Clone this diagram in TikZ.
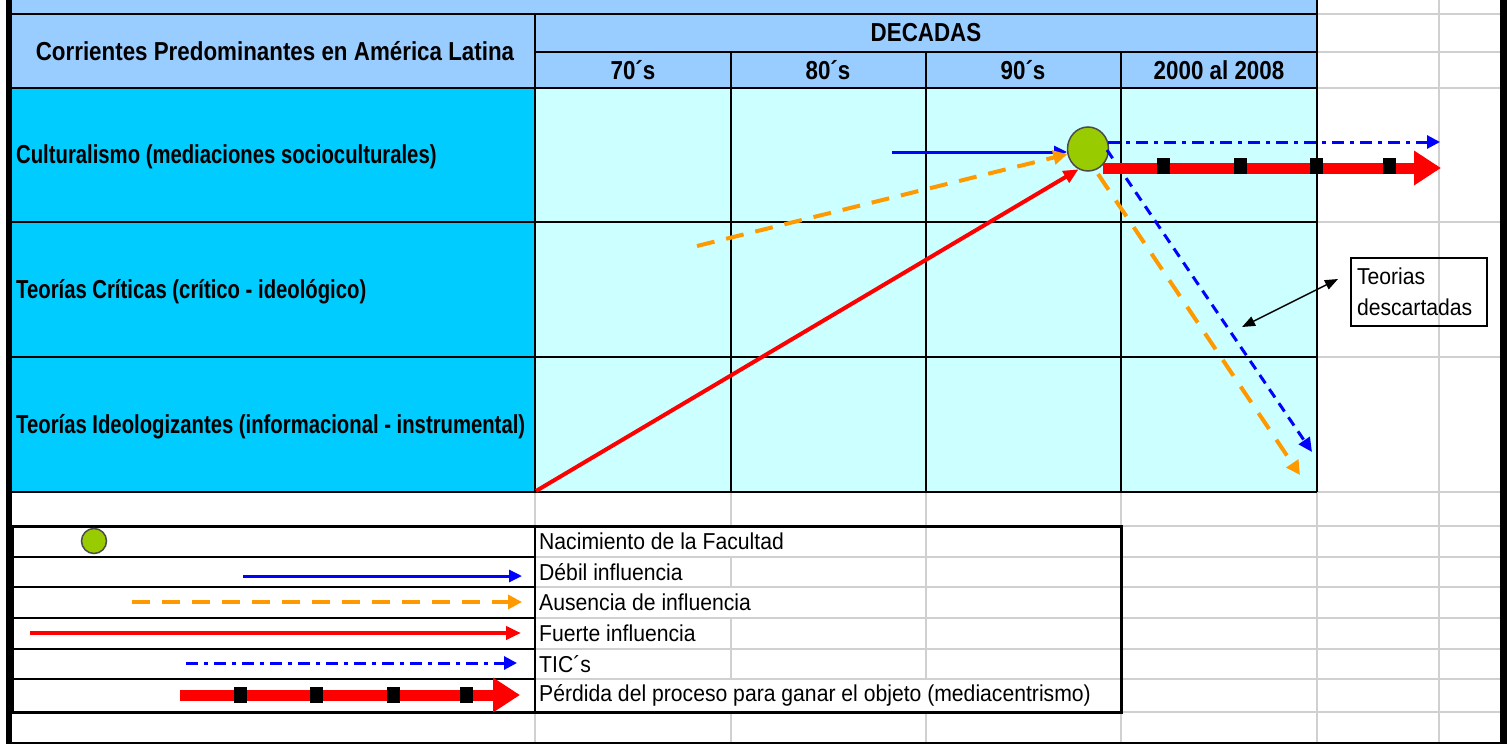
\documentclass[tikz,border=0pt]{standalone}
\usepackage{fontspec}
\setmainfont{Liberation Sans}
\newfontfamily\narrowfont[FakeStretch=0.86]{Liberation Sans}
\newfontfamily\rowfont[FakeStretch=0.78]{Liberation Sans}
\newfontfamily\legendfont[FakeStretch=0.92]{Liberation Sans}
\usetikzlibrary{arrows.meta,shapes.geometric}
\definecolor{hdrblue}{HTML}{99CCFF}
\definecolor{rowcyan}{HTML}{00CCFF}
\definecolor{cellcyan}{HTML}{CCFFFF}
\definecolor{nacgreen}{HTML}{99CC00}
\definecolor{xlorange}{HTML}{FF9900}
\definecolor{gridgrey}{HTML}{D0D0D0}
\begin{document}
\begin{tikzpicture}[x=1pt,y=-1pt,
  hdr/.style={font=\narrowfont\bfseries\fontsize{26}{28}\selectfont,inner sep=0pt},
  rowlbl/.style={font=\rowfont\bfseries\fontsize{26}{28}\selectfont,inner sep=0pt,anchor=west},
  leg/.style={font=\legendfont\fontsize{23}{25}\selectfont,anchor=west,inner sep=0pt},
  nacdot/.style={circle,fill=nacgreen,draw=black!70,line width=1.5pt,inner sep=0pt},
  debil/.style={blue,line width=3pt,-{Triangle[length=13pt,width=12pt]}},
  ausencia/.style={xlorange,line width=4pt,dash pattern=on 18pt off 12pt,-{Triangle[length=14pt,width=14pt]}},
  fuerte/.style={red,line width=4pt,-{Triangle[length=15pt,width=13pt]}},
  tics/.style={blue,line width=3pt,dash pattern=on 12pt off 6pt on 4pt off 6pt,-{Triangle[length=13pt,width=13pt]}},
  descarte/.style={blue,line width=3pt,dash pattern=on 10pt off 7pt,-{Triangle[length=14pt,width=13pt]}},
  perdida/.style={red,line width=11pt,-{Triangle[length=27pt,width=33pt]}},
  grid/.style={black,line width=1.5pt},
  xlgrid/.style={gridgrey,line width=2pt}]
  \useasboundingbox[fill=white] (0,0) rectangle (1507,744);
  % sheet grid
  \foreach \x in {535,731,926,1121,1317,1439}
    \draw[xlgrid] (\x,0) -- (\x,742);
  \foreach \y in {14,52,88,222,357,492,526,557,587,618,649,679,712}
    \draw[xlgrid] (12,\y) -- (1500,\y);
  % table
  \fill[hdrblue] (12,0) rectangle (1317,88);
  \fill[rowcyan] (12,88) rectangle (535,492);
  \fill[cellcyan] (535,88) rectangle (1317,492);
  \draw[grid] (12,14) -- (1317,14);
  \draw[grid] (535,52) -- (1317,52);
  \foreach \y in {88,222,357,492}
    \draw[grid] (12,\y) -- (1317,\y);
  \draw[grid] (535,14) -- (535,492);
  \foreach \x in {731,926,1121}
    \draw[grid] (\x,52) -- (\x,492);
  \draw[grid] (1317,0) -- (1317,492);
  \node[hdr] (title) at (275,51) {Corrientes Predominantes en América Latina};
  \node[hdr] (decadas) at (926,33) {DECADAS};
  \node[hdr] (d70) at (633,70) {70´s};
  \node[hdr] (d80) at (828,70) {80´s};
  \node[hdr] (d90) at (1023,70) {90´s};
  \node[hdr] (d2000) at (1219,70) {2000 al 2008};
  \node[rowlbl] (cult) at (16,157) {Culturalismo (mediaciones socioculturales)};
  \node[rowlbl] (crit) at (16,292) {Teorías Críticas (crítico - ideológico)};
  \node[rowlbl] (ideo) at (16,427) {Teorías Ideologizantes (informacional - instrumental)};
  % legend
  \fill[white] (12,526) rectangle (1121,712);
  \foreach \y in {557,587,618,649,679}{
    \draw[grid,line width=1.2pt] (12,\y) -- (535,\y);
    \draw[xlgrid] (535,\y) -- (1121,\y);
  }
  \draw[xlgrid] (926,526) -- (926,679);
  \draw[xlgrid] (731,557) -- (731,587);
  \draw[xlgrid] (731,618) -- (731,679);
  \draw[grid] (535,526) -- (535,712);
  \draw[black,line width=3pt] (12,526) rectangle (1121,712);
  \node[leg] (lnac) at (539,541) {Nacimiento de la Facultad};
  \node[leg] (ldebil) at (539,572) {Débil influencia};
  \node[leg] (laus) at (539,602) {Ausencia de influencia};
  \node[leg] (lfuerte) at (539,633) {Fuerte influencia};
  \node[leg] (ltic) at (539,664) {TIC´s};
  \node[leg] (lperd) at (539,695) {Pérdida del proceso para ganar el objeto (mediacentrismo)};
  \node[nacdot,minimum size=25pt] (snac) at (94,541) {};
  \coordinate (sdebA) at (243,576);  \coordinate (sdebB) at (522,576);
  \coordinate (sausA) at (132,602);  \coordinate (sausB) at (522,602);
  \coordinate (sfueA) at (30,633);   \coordinate (sfueB) at (521,633);
  \coordinate (sticA) at (186,663);  \coordinate (sticB) at (517,663);
  \coordinate (sperA) at (180,695);  \coordinate (sperB) at (520,695);
  \draw[debil] (sdebA) -- (sdebB);
  \draw[ausencia] (sausA) -- (sausB);
  \draw[fuerte] (sfueA) -- (sfueB);
  \draw[tics] (sticA) -- (sticB);
  \draw[perdida] (sperA) -- (sperB);
  \foreach \x in {240,316,393,466}
    \fill[black] (\x-6.5,687) rectangle +(13,16);
  % arrows in the table
  \node[nacdot,ellipse,minimum width=41pt,minimum height=44pt] (nac) at (1088,149) {};
  \coordinate (debA) at (892,152);
  \coordinate (ausA) at (697,246);
  \coordinate (fueA) at (536,491);
  \coordinate (ticB) at (1440,142);
  \coordinate (perA) at (1103,168);
  \coordinate (perB) at (1441,168);
  \coordinate (blueB) at (1312,452);
  \coordinate (orB) at (1300,475);
  \draw[debil] (debA) -- (1067,152);
  \draw[ausencia] (ausA) -- (nac);
  \draw[fuerte] (fueA) -- (nac.-115);
  \draw[descarte] (1107,150) -- (blueB);
  \draw[ausencia,dash pattern=on 19pt off 13pt] (1098,174) -- (orB);
  \draw[perdida] (perA) -- (perB);
  \foreach \x in {1163,1240,1316,1389}
    \fill[black] (\x-6.5,158) rectangle +(13,16);
  \draw[tics] (1108,142) -- (ticB);
  \node[draw=black,line width=1.5pt,font=\legendfont\fontsize{23}{31}\selectfont,align=left,
    minimum width=136pt,minimum height=68pt,text width=124pt,inner sep=6pt] (desc) at (1419,292) {Teorias\\descartadas};
  \coordinate (descA) at (1242,327);
  \coordinate (descB) at (1338,279);
  \draw[black,line width=1.5pt,{Triangle[length=13pt,width=10pt]}-{Triangle[length=13pt,width=10pt]}] (descA) -- (descB);
  % sheet border
  \draw[black,line width=6pt] (9,0) -- (9,744);
  \draw[black,line width=7pt] (1503.5,0) -- (1503.5,744);
  \draw[black,line width=2.5pt] (9,742.75) -- (1503.5,742.75);
\end{tikzpicture}
\end{document}
